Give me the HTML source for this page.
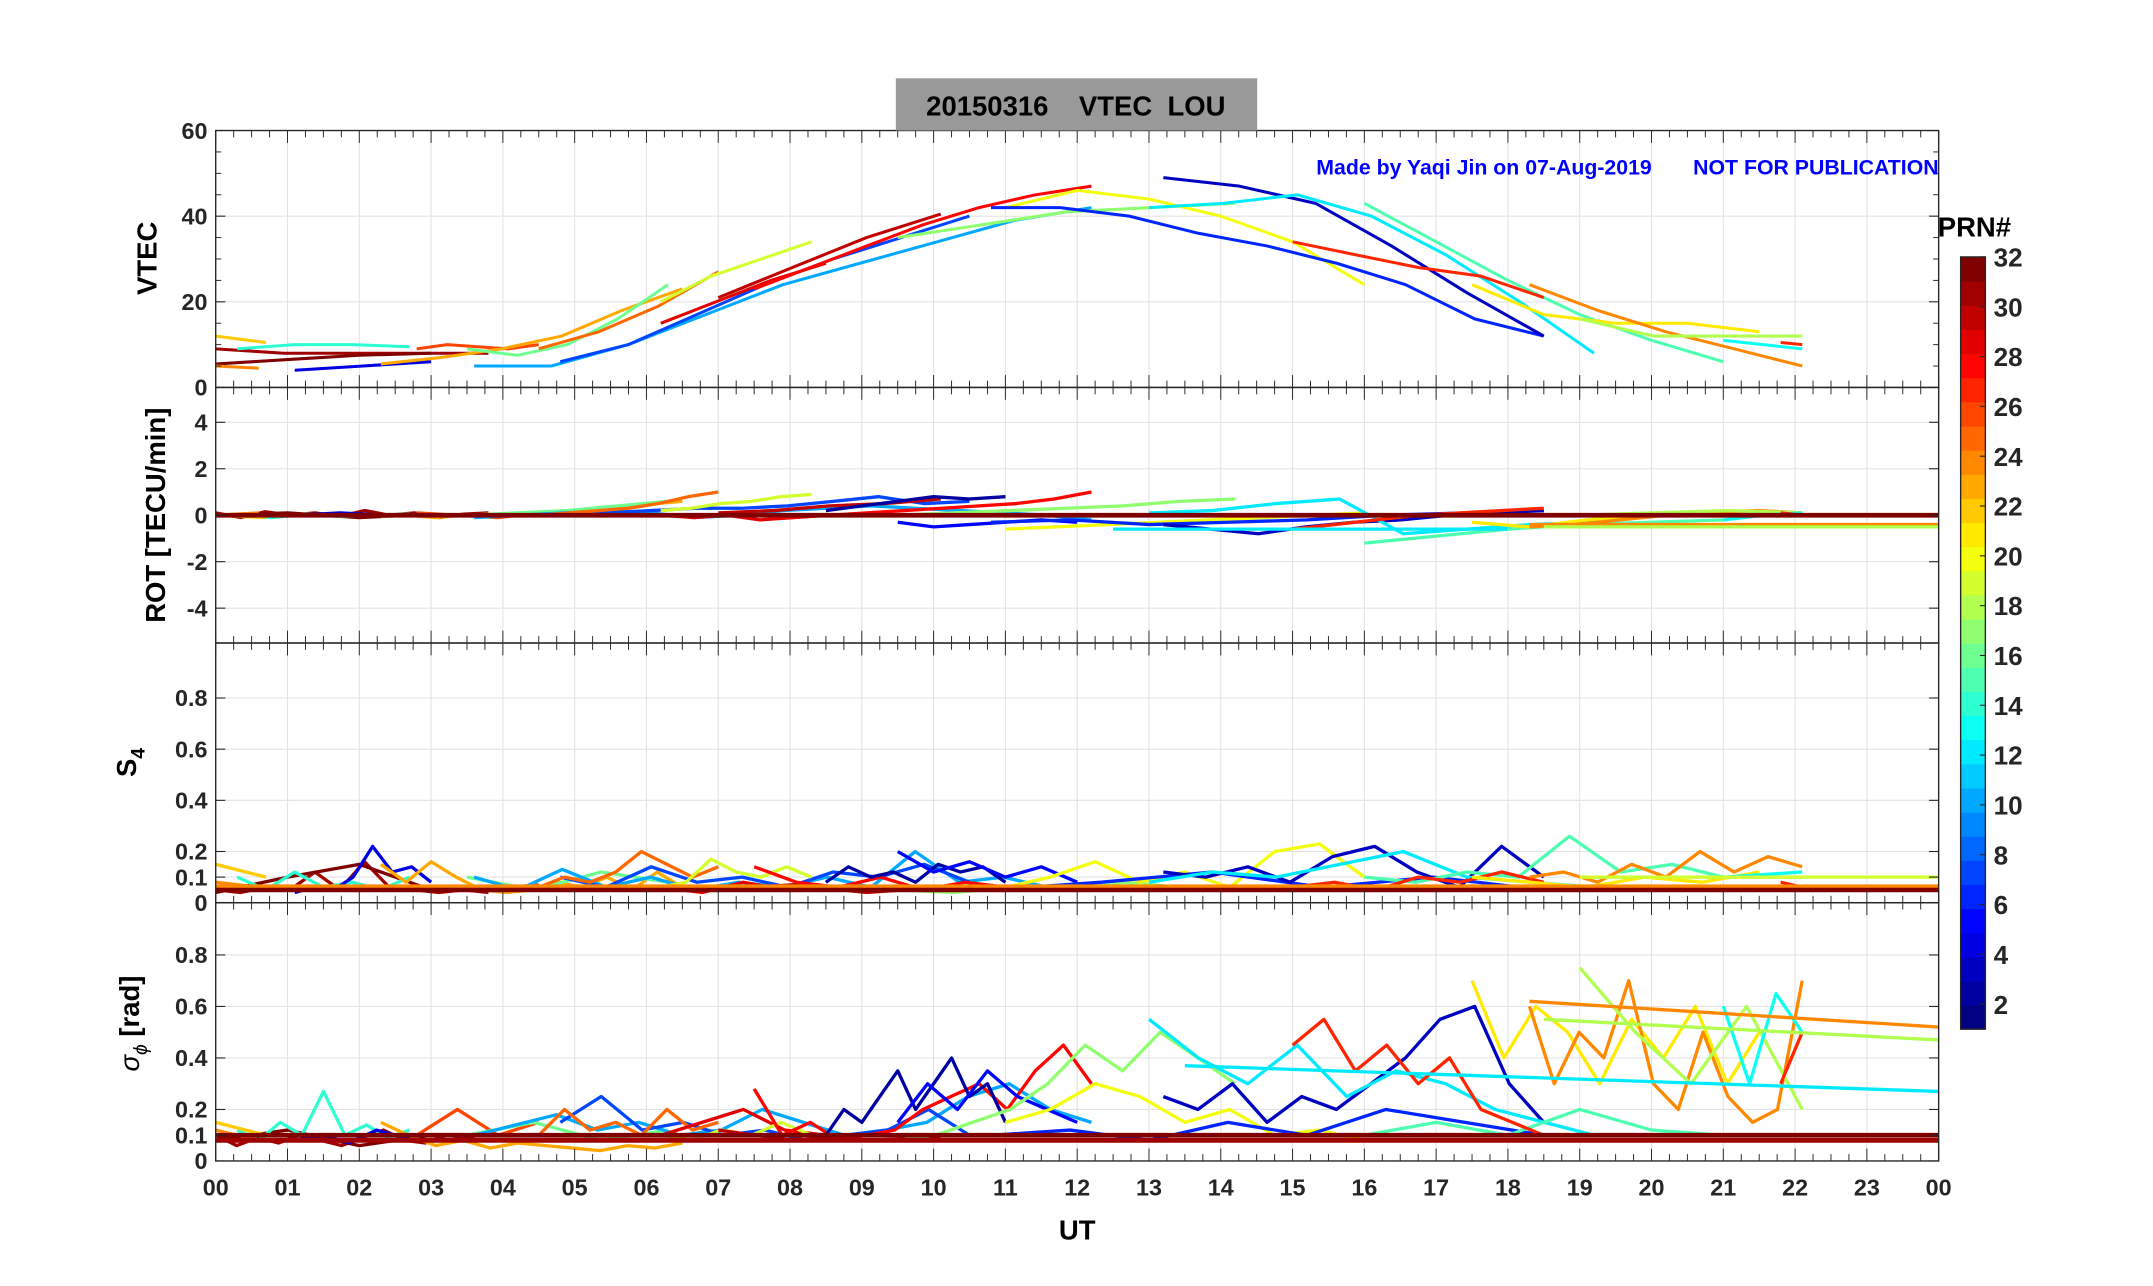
<!DOCTYPE html>
<html><head><meta charset="utf-8"><style>
html,body{margin:0;padding:0;background:#fff}
svg{display:block}
text{font-family:"Liberation Sans",Arial,sans-serif;font-weight:bold}
</style></head><body>
<svg id="fig" xmlns="http://www.w3.org/2000/svg" width="2153" height="1286" viewBox="0 0 1567 936" preserveAspectRatio="none">
<rect x="0" y="0" width="1567" height="936" fill="#fff"/>
<g id="grids"></g><g id="series"></g><g id="axes"></g><g id="cbar"></g>
<rect x="652" y="57" width="263" height="38" fill="#999"/>
<text x="783" y="84" font-size="20" text-anchor="middle" xml:space="preserve">20150316    VTEC  LOU</text>
<text x="1411" y="127" font-size="15.5" fill="#0000ff" text-anchor="end" xml:space="preserve">Made by Yaqi Jin on 07-Aug-2019       NOT FOR PUBLICATION</text>
<text transform="translate(114,188) rotate(-90)" font-size="20" text-anchor="middle">VTEC</text>
<text transform="translate(120,375) rotate(-90)" font-size="20" text-anchor="middle">ROT [TECU/min]</text>
<text transform="translate(99,555) rotate(-90)" font-size="20" text-anchor="middle">S<tspan font-size="14" dy="6">4</tspan></text>
<text transform="translate(101,745) rotate(-90)" font-size="20" text-anchor="middle"><tspan font-weight="normal" font-style="italic">σ</tspan><tspan font-size="14" dy="6" font-weight="normal" font-style="italic">ϕ</tspan><tspan dy="-6"> [rad]</tspan></text>
<text x="784" y="902" font-size="20" text-anchor="middle">UT</text>
<text x="1437" y="172" font-size="20" text-anchor="middle">PRN#</text>
</svg>
<script>
const NS="http://www.w3.org/2000/svg";
const xTicks=["00","01","02","03","04","05","06","07","08","09","10","11","12","13","14","15","16","17","18","19","20","21","22","23","00"];
const vtecTicks=[0,20,40,60];
const rotTicks=[-4,-2,0,2,4];
const s4Ticks=[0,0.1,0.2,0.4,0.6,0.8];
const sigTicks=[0,0.1,0.2,0.4,0.6,0.8];
const cbTicks=[2,4,6,8,10,12,14,16,18,20,22,24,26,28,30,32];
// satellite tracks: prn, start hour, end hour, values evenly spread
const trkPrn=[31,32,14,22,24,4,26,23,16,10,7,25,29,19,30,28,2,5,17,20,6,3,12,15,27,21,24,18,13,27];
const trkT0=[0,0,0.3,0,0,1.1,2.8,2.3,3.5,3.6,4.8,4.5,6.2,6.2,7,7.5,8.5,9.5,9.5,11,10.8,13.2,13,16,15,17.5,18.3,19,21,21.8];
const trkT1=[3.8,3,2.7,0.7,0.6,3,4.5,6.5,6.3,12.2,10.5,7,8.5,8.3,10.1,12.2,11,12,14.2,16,18.5,18.5,19.2,21,18.5,21.5,22.1,22.1,22.1,22.1];
const trkVtec=[[9,8,8,8,8],[5.5,6.5,7.5,8],[9,10,10,9.5],[12,10.5],[5,4.5],[4,5,6],[9,10,9.5,9,10],[5.5,7,9,12,18,23],[9,7.5,10,16,24],[5,5,10,17,24,29,34,39,42],[6,10,17,24,30,35,40],[9,13,19,27],[15,20,25,29],[20,26,30,34],[21,28,35,40.5],[23,28,33,38,42,45,47],[],[],[35,38,41,42,43],[42,46,44,40,34,24],[42,42,40,36,33,29,24,16,12],[49,47,43,33,22,12],[42,43,45,40,31,20,8],[43,34,25,17,11,6],[34,31,28,26,21],[24,17,15,15,13],[24,18,13,9,5],[16,12,12,12],[11,9],[10.5,10]];
const trkRot=[[0.1,-0.1,0.15,0,0.1,-0.05,0.2,0,0.1,-0.1,0.05,0.1],[0,0.1,-0.1,0.05],[0,-0.1,0.05,-0.05,0,0.05],[0,-0.1],[0,0.1],[0,0.1,0,0.05],[0.1,0,-0.1,0.1],[-0.05,0,-0.1,0,0.05,0,0.1,0.2,0.3,0.4,0.5,0.6],[0,0.1,0.2,0.4,0.6],[-0.1,0,0.1,0.2,0.1,-0.1,0,0.2,0.3,0.4,0.3,0.2,0.1,0,-0.2],[0,0.1,0.2,0.3,0.3,0.4,0.6,0.8,0.5,0.6],[0,0.1,0.2,0.3,0.5,0.8,1],[0,-0.1,0,-0.2,-0.1,0],[0.2,0.3,0.5,0.6,0.8,0.9],[0.1,0.2,0.4,0.5,0.7],[0,-0.1,0,0.1,0.2,0.3,0.4,0.5,0.7,1.0],[0.2,0.4,0.6,0.8,0.7,0.8],[-0.3,-0.5,-0.4,-0.3,-0.2,-0.3],[0,0.1,0.2,0.3,0.4,0.6,0.7],[-0.6,-0.5,-0.4,-0.3,-0.2,-0.1,0,0.1],[-0.3,-0.2,-0.4,-0.3,-0.2,0,0.1,0.2],[-0.4,-0.6,-0.8,-0.5,-0.3,-0.2,0,0.1,0.2],[0.1,0.2,0.5,0.7,-0.8,-0.6,-0.4,-0.3],[-1.2,-0.9,-0.6,-0.4,-0.3,-0.2],[-0.6,-0.4,-0.2,0,0.1,0.2,0.3],[-0.3,-0.5,-0.2,0,0.1,0.2],[-0.5,-0.4,-0.2,0,0.1,0.2,0.1],[0,0.1,0.2,0.1],[-0.2,0,0.1],[0.1,0]];
const trkS4=[[0.05,0.04,0.06,0.05,0.12,0.05,0.16,0.06,0.05,0.04,0.05,0.04],[0.04,0.1,0.15,0.05],[0.1,0.05,0.12,0.06,0.08,0.05,0.1],[0.15,0.1],[0.08,0.06],[0.04,0.06,0.05,0.1,0.22,0.12,0.14,0.08],[0.06,0.05,0.07],[0.15,0.08,0.16,0.1,0.05,0.04,0.05,0.08,0.06,0.1,0.05,0.12,0.06],[0.1,0.05,0.12,0.08],[0.1,0.05,0.13,0.06,0.1,0.05,0.08,0.06,0.1,0.06,0.2,0.08,0.1,0.06,0.05],[0.1,0.06,0.14,0.08,0.1,0.06,0.12,0.1,0.15,0.08],[0.06,0.1,0.08,0.12,0.2,0.15,0.1,0.14],[0.06,0.04,0.08,0.05,0.06],[0.06,0.08,0.17,0.12,0.1,0.14,0.1],[0.05,0.07,0.04,0.06],[0.14,0.08,0.06,0.1,0.05,0.08,0.06,0.05,0.07],[0.08,0.14,0.1,0.12,0.08,0.15,0.12,0.14,0.08],[0.2,0.12,0.16,0.1,0.14,0.08],[0.05,0.04,0.06,0.05,0.08,0.06,0.05],[0.06,0.1,0.16,0.08,0.12,0.06,0.2,0.23,0.1],[0.05,0.08,0.12,0.06,0.1,0.05],[0.12,0.1,0.14,0.08,0.18,0.22,0.12,0.06,0.22,0.1],[0.08,0.12,0.1,0.15,0.2,0.1,0.08,0.06],[0.1,0.08,0.12,0.1,0.26,0.12,0.15,0.1],[0.06,0.08,0.05,0.1,0.08,0.12,0.08],[0.1,0.08,0.06,0.1,0.08,0.12],[0.1,0.12,0.08,0.15,0.1,0.2,0.12,0.18,0.14],[0.1,0.1,0.1,0.1],[0.1,0.12],[0.08,0.06]];
const trkSig=[[0.1,0.06,0.09,0.07,0.1,0.08,0.06,0.09,0.12,0.08,0.07,0.1,0.09,0.11],[0.08,0.12,0.06,0.1],[0.12,0.08,0.15,0.1,0.27,0.1,0.14,0.09,0.12],[0.15,0.1],[0.12,0.08],[0.08,0.1,0.07,0.12,0.09,0.1],[0.1,0.2,0.1,0.15],[0.15,0.1,0.06,0.08,0.05,0.07,0.06,0.05,0.04,0.06,0.05,0.07],[0.1,0.15,0.08,0.12],[0.1,0.14,0.18,0.12,0.15,0.1,0.12,0.2,0.15,0.1,0.12,0.15,0.25,0.3,0.2,0.15],[0.15,0.25,0.12,0.15,0.1,0.12,0.08,0.1,0.12,0.2,0.1],[0.1,0.2,0.12,0.15,0.1,0.2,0.12,0.15],[0.1,0.15,0.2,0.12,0.1],[0.1,0.08,0.12,0.1,0.15,0.1],[0.12,0.08,0.1,0.09],[0.28,0.1,0.15,0.08,0.1,0.12,0.2,0.25,0.3,0.2,0.35,0.45,0.3],[0.1,0.2,0.15,0.25,0.35,0.2,0.3,0.4,0.25,0.3,0.15],[0.15,0.3,0.2,0.35,0.25,0.2,0.15],[0.08,0.1,0.15,0.2,0.3,0.45,0.35,0.5,0.4,0.3],[0.15,0.2,0.3,0.25,0.15,0.2,0.1,0.12,0.08],[0.1,0.12,0.08,0.15,0.1,0.2,0.15,0.1],[0.25,0.2,0.3,0.15,0.25,0.2,0.3,0.4,0.55,0.6,0.3,0.15],[0.55,0.4,0.3,0.45,0.25,0.35,0.3,0.2,0.15,0.1],[0.1,0.15,0.1,0.2,0.12,0.1],[0.45,0.55,0.35,0.45,0.3,0.4,0.2,0.15,0.1],[0.7,0.4,0.6,0.5,0.3,0.55,0.4,0.6,0.3,0.5],[0.6,0.3,0.5,0.4,0.7,0.3,0.2,0.5,0.25,0.15,0.2,0.7],[0.75,0.5,0.3,0.6,0.2],[0.6,0.3,0.65,0.5],[0.3,0.5]];
// straight interpolation artefacts: prn, panel, t0, t1, v0, v1
const artPrn=[32,32,32,24,24,24,18,18,12,12,19,31];
const artPanel=["rot","s4","sig","rot","sig","s4","rot","sig","rot","sig","s4","sig"];
const artT0=[0,0,0,18.3,18.3,0,18.5,18.5,12.5,13.5,19,0];
const artT1=[24,24,24,24,24,24,24,24,18,24,24,24];
const artV0=[0,0.05,0.1,-0.4,0.62,0.065,-0.5,0.55,-0.6,0.37,0.1,0.08];
const artV1=[0,0.05,0.1,-0.4,0.52,0.065,-0.5,0.47,-0.6,0.27,0.1,0.08];

const X0=157,X1=1411;
const panels={
 vtec:{top:95,bot:282,min:0,max:60},
 rot:{top:282,bot:468,min:-5.5,max:5.5},
 s4:{top:468,bot:657,min:0,max:1.015},
 sig:{top:657,bot:845,min:0,max:1.003}
};
const xs=t=>X0+(X1-X0)*t/24;
const ys=(p,v)=>{const P=panels[p];return P.bot-(v-P.min)/(P.max-P.min)*(P.bot-P.top);};
function jet(f){const c=x=>Math.round(255*Math.max(0,Math.min(1,x)));
 return `rgb(${c(1.5-Math.abs(4*f-3))},${c(1.5-Math.abs(4*f-2))},${c(1.5-Math.abs(4*f-1))})`;}
const prnColor=p=>jet((p-1)/31);
function mk(tag,attrs,parent){const e=document.createElementNS(NS,tag);for(const k in attrs)e.setAttribute(k,attrs[k]);parent.appendChild(e);return e;}
const G=document.getElementById('grids'),S=document.getElementById('series'),A=document.getElementById('axes'),C=document.getElementById('cbar');
const defs=mk('defs',{},document.getElementById('fig'));
for(const p in panels){const cp=mk('clipPath',{id:'clip-'+p},defs);mk('rect',{x:X0,y:panels[p].top,width:X1-X0,height:panels[p].bot-panels[p].top},cp);}
const tickSets={vtec:vtecTicks,rot:rotTicks,s4:s4Ticks,sig:sigTicks};
for(const p in panels){
 const P=panels[p];
 for(let h=1;h<24;h++){const l=mk('line',{x1:xs(h),x2:xs(h),y1:P.top,y2:P.bot,stroke:'#e3e3e3','stroke-width':0.8},G);
  }
 tickSets[p].forEach(v=>{const y=ys(p,v);
  const l=mk('line',{x1:X0,x2:X1,y1:y,y2:y,stroke:'#e3e3e3','stroke-width':0.8},G);
  
  mk('line',{x1:X0,x2:X0+7,y1:y,y2:y,stroke:'#262626','stroke-width':0.8},A);
  mk('line',{x1:X1,x2:X1-7,y1:y,y2:y,stroke:'#262626','stroke-width':0.8},A);
  const tx=mk('text',{x:X0-6,y:y+6,'font-size':17,'text-anchor':'end',fill:'#262626'},A);
  tx.textContent=String(v);
  });
 for(let m=0;m<=96;m++){const x=xs(m/4);const len=m%4===0?9:5;
  mk('line',{x1:x,x2:x,y1:P.top,y2:P.top+len,stroke:'#262626','stroke-width':0.7},A);
  mk('line',{x1:x,x2:x,y1:P.bot,y2:P.bot-len,stroke:'#262626','stroke-width':0.7},A);}
 const fr=mk('rect',{x:X0,y:P.top,width:X1-X0,height:P.bot-P.top,fill:'none',stroke:'#262626','stroke-width':1},A);
 
}
for(let v=5;v<60;v+=5){if(v%20){const y=ys('vtec',v);mk('line',{x1:X0,x2:X0+4,y1:y,y2:y,stroke:'#262626','stroke-width':0.7},A);mk('line',{x1:X1,x2:X1-4,y1:y,y2:y,stroke:'#262626','stroke-width':0.7},A);}}
xTicks.forEach((lab,i)=>{const t=mk('text',{x:xs(i),y:870,'font-size':17,'text-anchor':'middle',fill:'#262626'},A);
 t.textContent=lab;});
const keys=['vtec','rot','s4','sig'];
const arrs={vtec:trkVtec,rot:trkRot,s4:trkS4,sig:trkSig};
const layers={};keys.forEach(k=>{layers[k]=mk('g',{'clip-path':`url(#clip-${k})`},S);});
for(let i=0;i<trkPrn.length;i++){
 keys.forEach(k=>{const vals=arrs[k][i];if(!vals||vals.length<2)return;
  const n=vals.length;const pts=vals.map((v,j)=>{const t=trkT0[i]+(trkT1[i]-trkT0[i])*j/(n-1);return xs(t).toFixed(1)+','+ys(k,v).toFixed(1);}).join(' ');
  const pl=mk('polyline',{points:pts,fill:'none',stroke:prnColor(trkPrn[i]),'stroke-width':k==='vtec'?2.2:2.4,'stroke-linejoin':'round'},layers[k]);
  
  });
}
for(let i=0;i<artPrn.length;i++){const k=artPanel[i];
 const pl=mk('line',{x1:xs(artT0[i]),x2:xs(artT1[i]),y1:ys(k,artV0[i]),y2:ys(k,artV1[i]),stroke:prnColor(artPrn[i]),'stroke-width':artPrn[i]>=31?3.5:2.4},layers[k]);
 
 }
const CB={x:1427,w:18,top:187,bot:749};
for(let p=1;p<=32;p++){const h=(CB.bot-CB.top)/32;
 const r=mk('rect',{x:CB.x,y:CB.bot-p*h,width:CB.w,height:h+0.5,fill:prnColor(p)},C);
 }
mk('rect',{x:CB.x,y:CB.top,width:CB.w,height:CB.bot-CB.top,fill:'none',stroke:'#262626','stroke-width':1},C);
const cby=v=>CB.bot-(v-1)/31*(CB.bot-CB.top);
cbTicks.forEach(v=>{const y=cby(v);
 mk('line',{x1:CB.x+CB.w-4,x2:CB.x+CB.w,y1:y,y2:y,stroke:'#262626','stroke-width':0.8},C);
 const t=mk('text',{x:CB.x+CB.w+6,y:y+7,'font-size':19,fill:'#262626'},C);t.textContent=String(v);
 });
</script>
</body></html>
